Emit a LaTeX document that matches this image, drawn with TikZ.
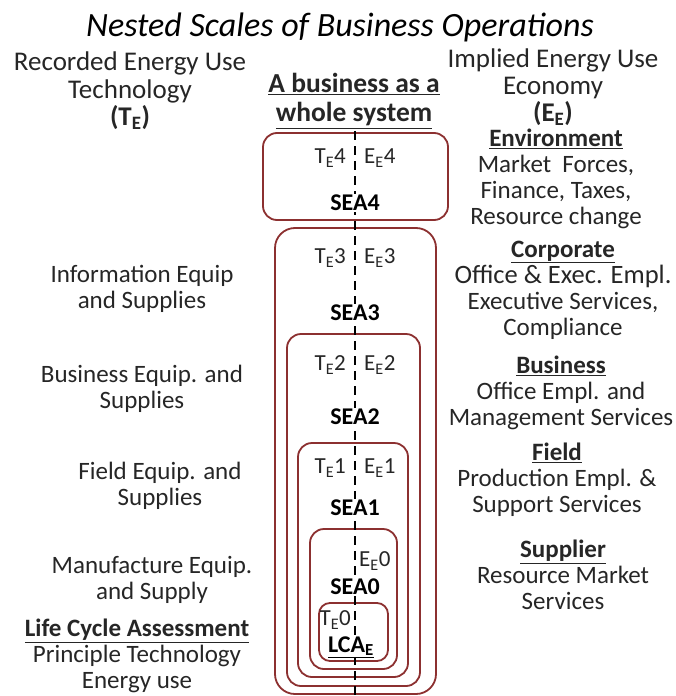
\documentclass[tikz,border=0pt]{standalone}
\usepackage{fontspec}
\setmainfont{Carlito}
\definecolor{boxred}{RGB}{140,48,48}
\definecolor{txt}{RGB}{38,38,38}
\newcommand\mysb[1]{\textsubscript{#1}}
\begin{document}
\begin{tikzpicture}[x=1pt,y=-1pt,
  nest/.style={draw=boxred, line width=1.8pt, rounded corners=14pt},
  spine/.style={draw=black, line width=2.8pt, dash pattern=on 9pt off 6pt},
  lbl/.style={font=\fontsize{25}{26}\selectfont, text=txt, align=center, inner sep=0pt},
  hd/.style={font=\fontsize{27}{27.5}\selectfont, text=txt, align=center, inner sep=0pt},
  small/.style={font=\fontsize{23}{24}\selectfont, text=txt, inner sep=0pt},
  sea/.style={font=\fontsize{24}{25}\selectfont\bfseries, text=black, fill=white, inner sep=1pt},
]
\useasboundingbox (0,0) rectangle (676,696);

% nested boxes
\draw[nest] (263,133) rectangle (448,220);
\draw[nest, rounded corners=20pt] (275,228) rectangle (436,694);
\draw[nest] (287,334) rectangle (420,686);
\draw[nest] (298,443) rectangle (408,677);
\draw[nest] (310,529) rectangle (397,669);
\draw[nest, rounded corners=11pt] (319,603) rectangle (388,661);

% spine
\coordinate (ltop) at (355,131);
\coordinate (lbot) at (355,697);
\draw[spine] (ltop) -- (lbot);

% title
\node[font=\fontsize{34}{36}\selectfont\itshape, text=black, inner sep=0pt] (title) at (340,27) {Nested Scales of Business Operations};

% centre header
\node[hd, font=\fontsize{27.5}{29}\selectfont\bfseries] (hdr) at (354,101) {\underline{A business as a}\\\underline{whole system}};

% left header
\node[hd] (lhd) at (130,91) {Recorded Energy Use\\Technology\\\textbf{(T\mysb{E})}};
% right header
\node[hd, font=\fontsize{27}{27}\selectfont] (rhd) at (553,87) {Implied Energy Use\\Economy\\\textbf{(E\mysb{E})}};

% box labels
\node[small, anchor=east] (t4) at (346,158) {T\mysb{E}4};
\node[small, anchor=west] (e4) at (364,158) {E\mysb{E}4};
\node[sea] (s4) at (355,203) {SEA4};
\node[small, anchor=east] (t3) at (346,258) {T\mysb{E}3};
\node[small, anchor=west] (e3) at (364,258) {E\mysb{E}3};
\node[sea] (s3) at (355,313) {SEA3};
\node[small, anchor=east] (t2) at (346,365) {T\mysb{E}2};
\node[small, anchor=west] (e2) at (364,365) {E\mysb{E}2};
\node[sea] (s2) at (355,417) {SEA2};
\node[small, anchor=east] (t1) at (346,468) {T\mysb{E}1};
\node[small, anchor=west] (e1) at (364,468) {E\mysb{E}1};
\node[sea] (s1) at (355,508) {SEA1};
\node[small, anchor=west] (e0) at (359,561) {E\mysb{E}0};
\node[sea] (s0) at (355,587) {SEA0};
\node[small, anchor=east] (t0) at (351,620) {T\mysb{E}0};
\node[sea, inner sep=0pt] (lca) at (351,647) {\underline{LCA\mysb{E}}};

% left column
\node[lbl] (l3) at (142,289) {Information Equip\\and Supplies};
\node[lbl] (l2) at (142,389) {Business Equip. and\\Supplies};
\node[lbl] (l1) at (160,486) {Field Equip. and\\Supplies};
\node[lbl] (l0) at (152,580) {Manufacture Equip.\\and Supply};
\node[lbl] (llca) at (137,656) {\textbf{\underline{Life Cycle Assessment}}\\Principle Technology\\Energy use};

% right column
\node[lbl] (r4) at (556,179) {\textbf{\underline{Environment}}\\Market~~Forces,\\Finance, Taxes,\\Resource change};
\node[lbl] (r3) at (563,290) {\textbf{\underline{Corporate}}\\{\fontsize{26.5}{26}\selectfont Office \& Exec. Empl.}\\Executive Services,\\Compliance};
\node[lbl] (r2) at (561,393) {\textbf{\underline{Business}}\\Office Empl. and\\Management Services};
\node[lbl] (r1) at (557,480) {\textbf{\underline{Field}}\\Production Empl. \&\\Support Services};
\node[lbl] (r0) at (563,575) {\textbf{\underline{Supplier}}\\Resource Market\\Services};
\end{tikzpicture}
\end{document}
